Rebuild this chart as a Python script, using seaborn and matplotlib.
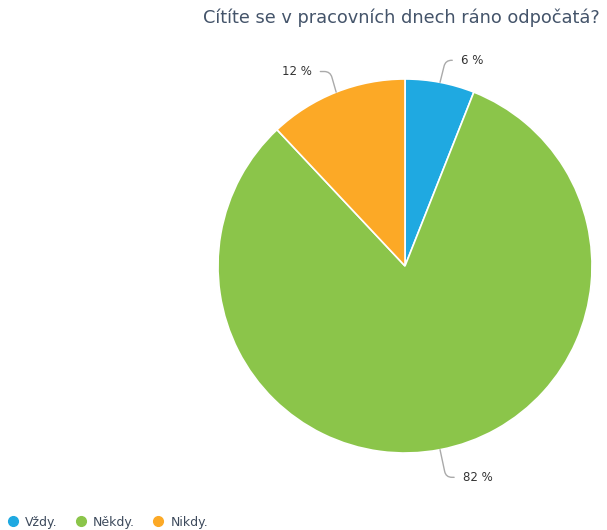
import matplotlib
matplotlib.use("Agg")
import matplotlib.pyplot as plt
from matplotlib.lines import Line2D
import numpy as np
import seaborn as sns

categories = ["Vždy.", "Někdy.", "Nikdy."]
values = [6, 82, 12]
colors = ["#1fa9e1", "#8bc54a", "#fca926"]
title = "Cítíte se v pracovních dnech ráno odpočatá?"

sns.set_theme(style="white")
plt.rcParams["font.family"] = ["DejaVu Sans"]

W, H = 607, 530
fig = plt.figure(figsize=(W / 100, H / 100), dpi=100)
cx, cy, r = 405, 266, 187
ax = fig.add_axes([(cx - r) / W, (H - cy - r) / H, 2 * r / W, 2 * r / H])

wedges, _ = ax.pie(values, colors=colors, startangle=90, counterclock=False,
                   wedgeprops=dict(edgecolor="white", linewidth=1.2))
ax.set_xlim(-1, 1)
ax.set_ylim(-1, 1)
ax.set_aspect("equal")
ax.axis("off")

# label anchors (text position in pie radii, alignment, leader angle at slice)
label_pos = [(0.30, 1.10, "left", 76), (0.31, -1.13, "left", 102),
             (-0.50, 1.04, "right", 106)]
for w, v, (tx, ty, ha, angb) in zip(wedges, values, label_pos):
    ang = np.deg2rad((w.theta1 + w.theta2) / 2)
    px, py = np.cos(ang), np.sin(ang)
    ax.annotate(f"{v} %", xy=(px, py), xytext=(tx, ty), ha=ha, va="center",
                fontsize=8.5, color="#333333", annotation_clip=False,
                arrowprops=dict(arrowstyle="-", color="#aaaaaa", lw=1,
                                shrinkA=4, shrinkB=0,
                                connectionstyle=f"angle,angleA=0,angleB={angb},rad=6"))

fig.text(600 / W, 1 - 18 / H, title, ha="right", va="center",
         fontsize=12.75, color="#44546a")

handles = [Line2D([], [], marker="o", linestyle="none", markersize=7,
                  markerfacecolor=c, markeredgecolor=c) for c in colors]
fig.legend(handles, categories, loc="lower left", bbox_to_anchor=(0.0, -0.012),
           ncol=3, frameon=False, fontsize=9, handlelength=0.8,
           handletextpad=0.6, columnspacing=1.45, labelcolor="#3d4a5c",
           borderaxespad=0.2)

fig.savefig("out.png", dpi=100)
